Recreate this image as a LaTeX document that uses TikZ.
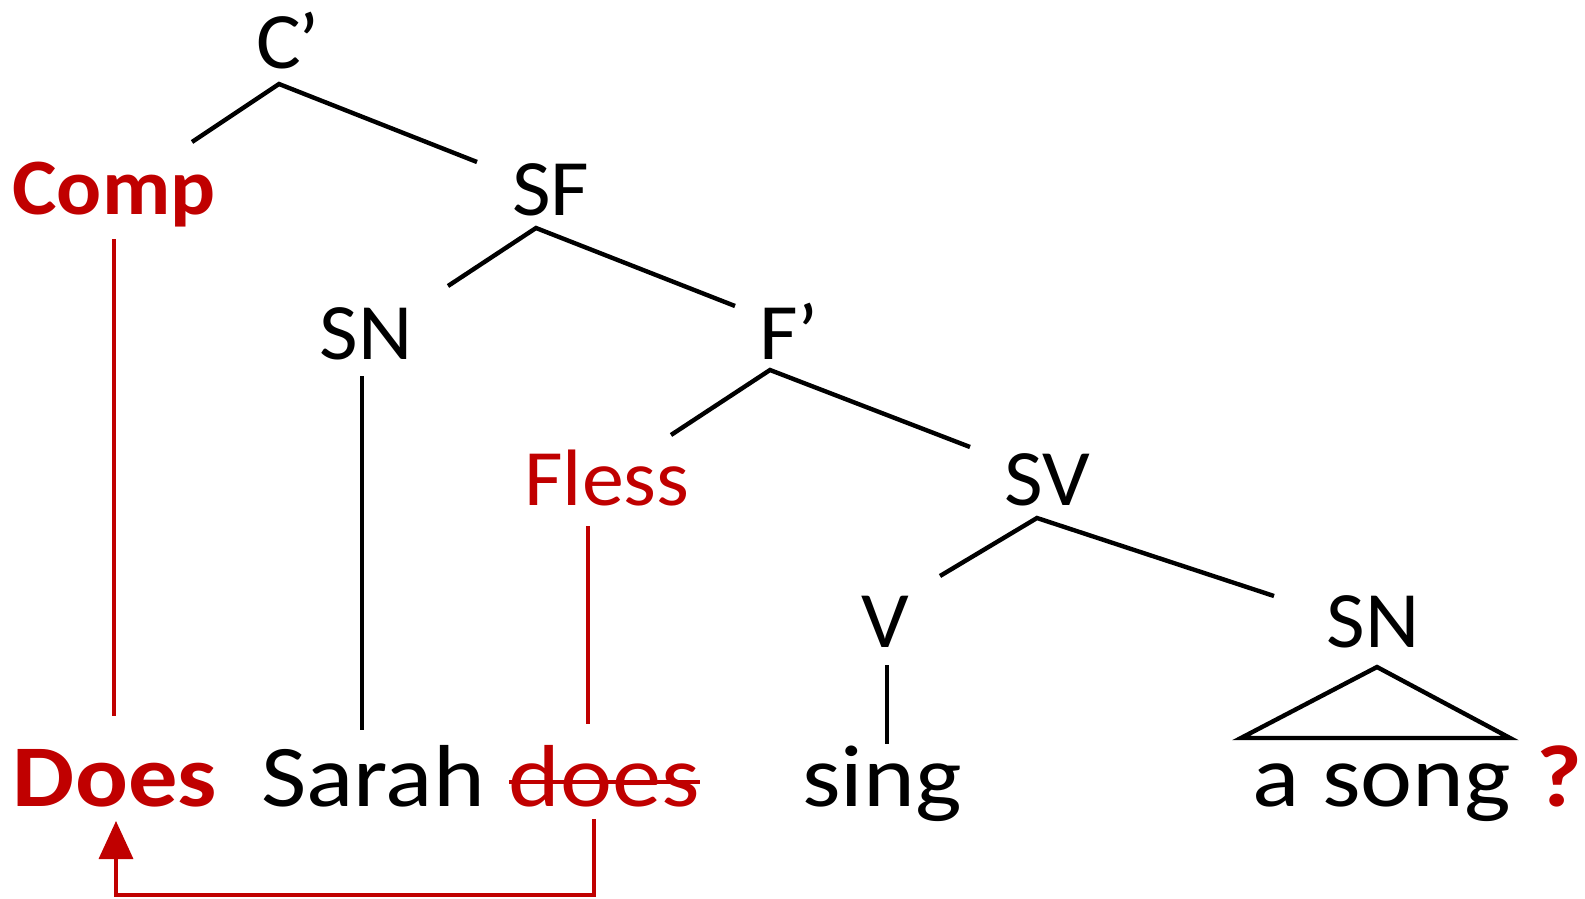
\documentclass[tikz,border=0pt]{standalone}
\usepackage{fontspec}
\setmainfont{Carlito}
\usetikzlibrary{arrows.meta}
\definecolor{moved}{RGB}{192,0,0}
\begin{document}
\begin{tikzpicture}[x=0.5pt,y=-0.5pt,
  cat/.style={anchor=base,inner sep=0pt,xscale=1.05,font=\fontsize{40}{48}\selectfont},
  word/.style={anchor=base,inner sep=0pt,xscale=1.12,font=\fontsize{44}{52}\selectfont},
  branch/.style={line width=2.2pt,black},
  trace/.style={line width=1.8pt,moved},
  move/.style={line width=1.8pt,moved,-{Triangle[length=19pt,width=17pt]}}]
\useasboundingbox (0,0) rectangle (1585,899);
% category labels
\node[cat] (Cp) at (288,69) {C\kern-0.04em’};
\node[cat,moved,font=\fontsize{40}{48}\selectfont\bfseries] (Comp) at (114,214) {Comp};
\node[cat] (SF) at (551,215) {SF};
\node[cat] (SNa) at (366,359) {SN};
\node[cat] (Fp) at (789,359) {F’};
\node[cat,moved] (Fless) at (607,505) {Fless};
\node[cat] (SV) at (1047,505) {SV};
\node[cat] (V) at (885,647) {V};
\node[cat] (SNb) at (1373,647) {SN};
% words
\node[word,moved,font=\fontsize{44}{52}\selectfont\bfseries] (Does) at (115,806) {Does};
\node[word] (Sarah) at (373,806) {Sarah};
\node[word,moved] (does) at (604,806) {does};
\node[word] (sing) at (882,806) {sing};
\node[word] (song) at (1382,806) {a song};
\node[word,moved,font=\fontsize{44}{52}\selectfont\bfseries,anchor=base west] (q) at (1536,806) {?};
% branch end points
\coordinate (Cp-d) at (279,84);
\coordinate (Comp-u) at (192,142);
\coordinate (SF-u) at (477,162);
\coordinate (SF-d) at (536,228);
\coordinate (SNa-u) at (448,286);
\coordinate (Fp-u) at (735,306);
\coordinate (Fp-d) at (770,370);
\coordinate (Fless-u) at (671,435);
\coordinate (SV-u) at (970,447);
\coordinate (SV-d) at (1037,518);
\coordinate (V-u) at (940,576);
\coordinate (SNb-u) at (1274,596);
\coordinate (SNb-d) at (1377,667);
\coordinate (song-l) at (1241,738);
\coordinate (song-r) at (1510,738);
\coordinate (SNa-d) at (362,376);
\coordinate (Sarah-u) at (362,730);
\coordinate (V-d) at (887,665);
\coordinate (sing-u) at (887,744);
\coordinate (Comp-d) at (114,239);
\coordinate (Does-u) at (114,716);
\coordinate (Fless-d) at (588,526);
\coordinate (does-u) at (588,724);
\coordinate (strike-l) at (509,782);
\coordinate (strike-r) at (700,782);
\coordinate (does-d) at (594,819);
\coordinate (Does-d) at (116,821);
\coordinate (bend) at (594,895);
% tree
\draw[branch] (Comp-u) -- (Cp-d) -- (SF-u);
\draw[branch] (SNa-u) -- (SF-d) -- (Fp-u);
\draw[branch] (Fless-u) -- (Fp-d) -- (SV-u);
\draw[branch] (V-u) -- (SV-d) -- (SNb-u);
\draw[branch] (SNb-d) -- (song-l) -- (song-r) -- cycle;
\draw[branch] (SNa-d) -- (Sarah-u);
\draw[branch] (V-d) -- (sing-u);
% traces of movement
\draw[trace] (Comp-d) -- (Does-u);
\draw[trace] (Fless-d) -- (does-u);
\draw[trace] (strike-l) -- (strike-r);
\draw[move] (does-d) -- (bend) -| (Does-d);
\end{tikzpicture}
\end{document}
